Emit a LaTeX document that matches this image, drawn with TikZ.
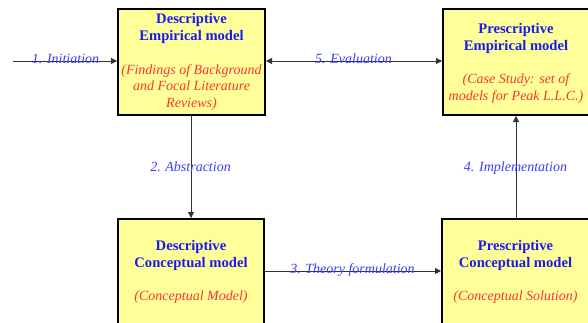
\documentclass[tikz,border=0pt]{standalone}
\usepackage{fontspec}
\setmainfont{Liberation Serif}
\usetikzlibrary{arrows.meta}
\definecolor{boxfill}{HTML}{FFFF99}
\definecolor{titleblue}{HTML}{1A1AF0}
\definecolor{labelblue}{HTML}{3C3CFF}
\definecolor{notered}{HTML}{FF3333}
\definecolor{linegray}{HTML}{333333}
\begin{document}
\begin{tikzpicture}[x=1pt,y=-1pt,
  model/.style={draw=black, line width=2pt, fill=boxfill, anchor=north west, inner sep=0pt, outer sep=0pt},
  title/.style={font=\bfseries\fontsize{14.6}{17}\selectfont, text=titleblue, align=center, inner sep=0pt},
  note/.style={font=\itshape\fontsize{14}{16.5}\selectfont, text=notered, align=center, inner sep=0pt},
  lbl/.style={font=\itshape\fontsize{14}{16}\selectfont, text=labelblue, inner sep=0pt},
  conn/.style={draw=linegray, line width=0.8pt, -{Triangle[length=6pt,width=6pt]}, shorten >=1pt},
  biconn/.style={draw=linegray, line width=0.8pt, {Triangle[length=6pt,width=6pt]}-{Triangle[length=6pt,width=6pt]}, shorten >=1pt, shorten <=1pt}]
\useasboundingbox (0,0) rectangle (588,322);
\clip (0,0) rectangle (588,322);
\fill[white] (0,0) rectangle (588,322);

% boxes
\node[model, minimum width=147pt, minimum height=106pt] (box1) at (118,9) {};
\node[model, minimum width=148pt, minimum height=106pt] (box2) at (443,9) {};
\node[model, minimum width=146pt, minimum height=110pt] (box3) at (118,219) {};
\node[model, minimum width=148pt, minimum height=110pt] (box4) at (442,219) {};

% box texts
\node[title] (t1) at (191.5,28.5) {Descriptive\\Empirical model};
\node[note] (n1) at (191.5,87.5) {(Findings of Background\\and Focal Literature\\Reviews)};
\node[title] (t2) at (516,38) {Prescriptive\\Empirical model};
\node[note] (n2) at (516,88.5) {(Case Study: set of\\models for Peak L.L.C.)};
\node[title] (t3) at (191,255.5) {Descriptive\\Conceptual model};
\node[note] (n3) at (191,297) {(Conceptual Model)};
\node[title] (t4) at (515.5,255.5) {Prescriptive\\Conceptual model};
\node[note] (n4) at (515.5,297) {(Conceptual Solution)};

% connectors
\coordinate (s1) at (13,61);
\coordinate (c3) at (300,271);
\draw[conn] (s1) -- (s1 -| box1.west);
\draw[biconn] (box1.east |- s1) -- (box2.west |- s1);
\draw[conn] (box1.south -| 191,0) -- (box3.north -| 191,0);
\draw[conn] (box3.east |- c3) -- (box4.west |- c3);
\draw[conn] (box4.north -| 516,0) -- (box2.south -| 516,0);

% labels
\node[lbl, anchor=base] (l1) at (65.5,63) {1. Initiation};
\node[lbl, anchor=base] (l5) at (353.5,63) {5. Evaluation};
\node[lbl, anchor=base] (l2) at (190.5,171) {2. Abstraction};
\node[lbl, anchor=base] (l4) at (515.5,171) {4. Implementation};
\node[lbl, anchor=base] (l3) at (352.5,273) {3. Theory formulation};
\end{tikzpicture}
\end{document}
